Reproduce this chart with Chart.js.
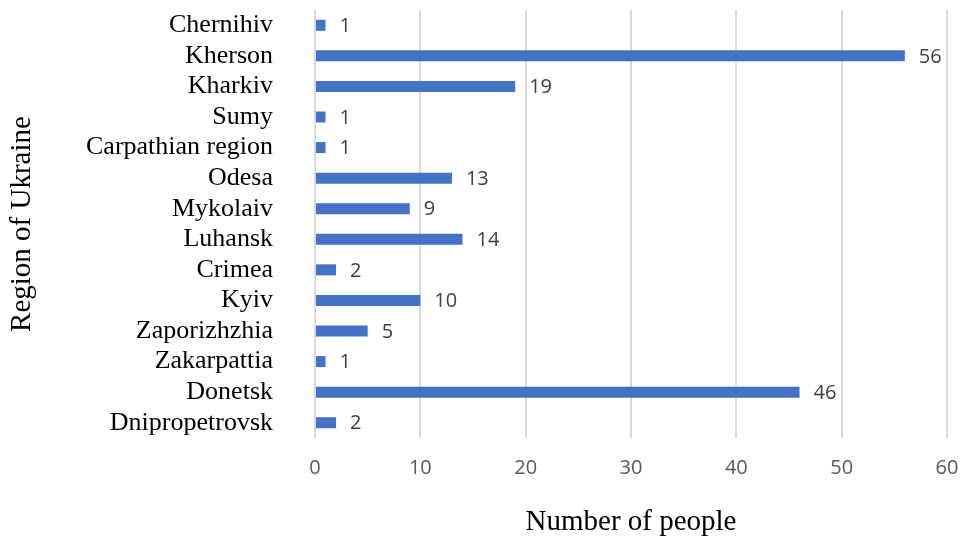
<!DOCTYPE html>
<html lang="en">
<head>
  <meta charset="UTF-8" />
  <title>Region of Ukraine</title>
  <script src="https://cdn.jsdelivr.net/npm/chart.js"></script>
  <style>
    body { margin: 0; background: #ffffff; }
    #wrap { width: 960px; height: 538px; }
  </style>
</head>
<body>
<div id="wrap"><canvas id="regionChart" width="960" height="538"></canvas></div>
<script>
// regions listed top to bottom, with the number of people from each
const regions = ['Chernihiv', 'Kherson', 'Kharkiv', 'Sumy', 'Carpathian region', 'Odesa', 'Mykolaiv',
  'Luhansk', 'Crimea', 'Kyiv', 'Zaporizhzhia', 'Zakarpattia', 'Donetsk', 'Dnipropetrovsk'];
const people = [1, 56, 19, 1, 1, 13, 9, 14, 2, 10, 5, 1, 46, 2];
const xTicks = [0, 10, 20, 30, 40, 50, 60];

// writes each bar's value just past its end
const valueLabels = {
  id: 'valueLabels',
  afterDatasetsDraw(chart) {
    const ctx = chart.ctx;
    const meta = chart.getDatasetMeta(0);
    ctx.save();
    ctx.font = '20px "Open Sans", sans-serif';
    ctx.fillStyle = '#404040';
    ctx.textAlign = 'left';
    ctx.textBaseline = 'middle';
    meta.data.forEach((bar, i) => {
      ctx.fillText(String(people[i]), bar.x + 14, bar.y + 1);
    });
    ctx.restore();
  }
};

new Chart(document.getElementById('regionChart'), {
  type: 'bar',
  data: {
    labels: regions,
    datasets: [{
      data: people,
      backgroundColor: '#4472C4',
      barPercentage: 0.36,
      categoryPercentage: 1
    }]
  },
  options: {
    indexAxis: 'y',
    responsive: false,
    animation: false,
    layout: { padding: { left: 5, top: 10, right: 13, bottom: 0 } },
    plugins: {
      legend: { display: false },
      tooltip: { enabled: false }
    },
    scales: {
      x: {
        min: 0,
        max: 60,
        afterBuildTicks: (scale) => { scale.ticks = xTicks.map(v => ({ value: v })); },
        afterFit: (scale) => {
          scale.height = 100;
          scale.paddingLeft = 0;
          scale.paddingRight = 0;
        },
        grid: { color: '#d9d9d9', lineWidth: 2, drawTicks: false },
        border: { display: false },
        ticks: {
          padding: 18,
          color: '#595959',
          font: { family: '"Open Sans", sans-serif', size: 20 }
        },
        title: {
          display: true,
          text: 'Number of people',
          color: '#000000',
          padding: { top: 0, bottom: 0 },
          font: { family: '"Liberation Serif", serif', size: 29, lineHeight: 1.1 }
        }
      },
      y: {
        afterFit: (scale) => {
          scale.width = 310;
          scale.paddingTop = 0;
          scale.paddingBottom = 0;
        },
        grid: { display: false, drawTicks: false },
        border: { display: false },
        ticks: {
          autoSkip: false,
          padding: 42,
          color: '#000000',
          font: { family: '"Liberation Serif", serif', size: 26 }
        },
        title: {
          display: true,
          text: 'Region of Ukraine',
          color: '#000000',
          padding: 0,
          font: { family: '"Liberation Serif", serif', size: 29, lineHeight: 1.2 }
        }
      }
    }
  },
  plugins: [valueLabels]
});
</script>
</body>
</html>
